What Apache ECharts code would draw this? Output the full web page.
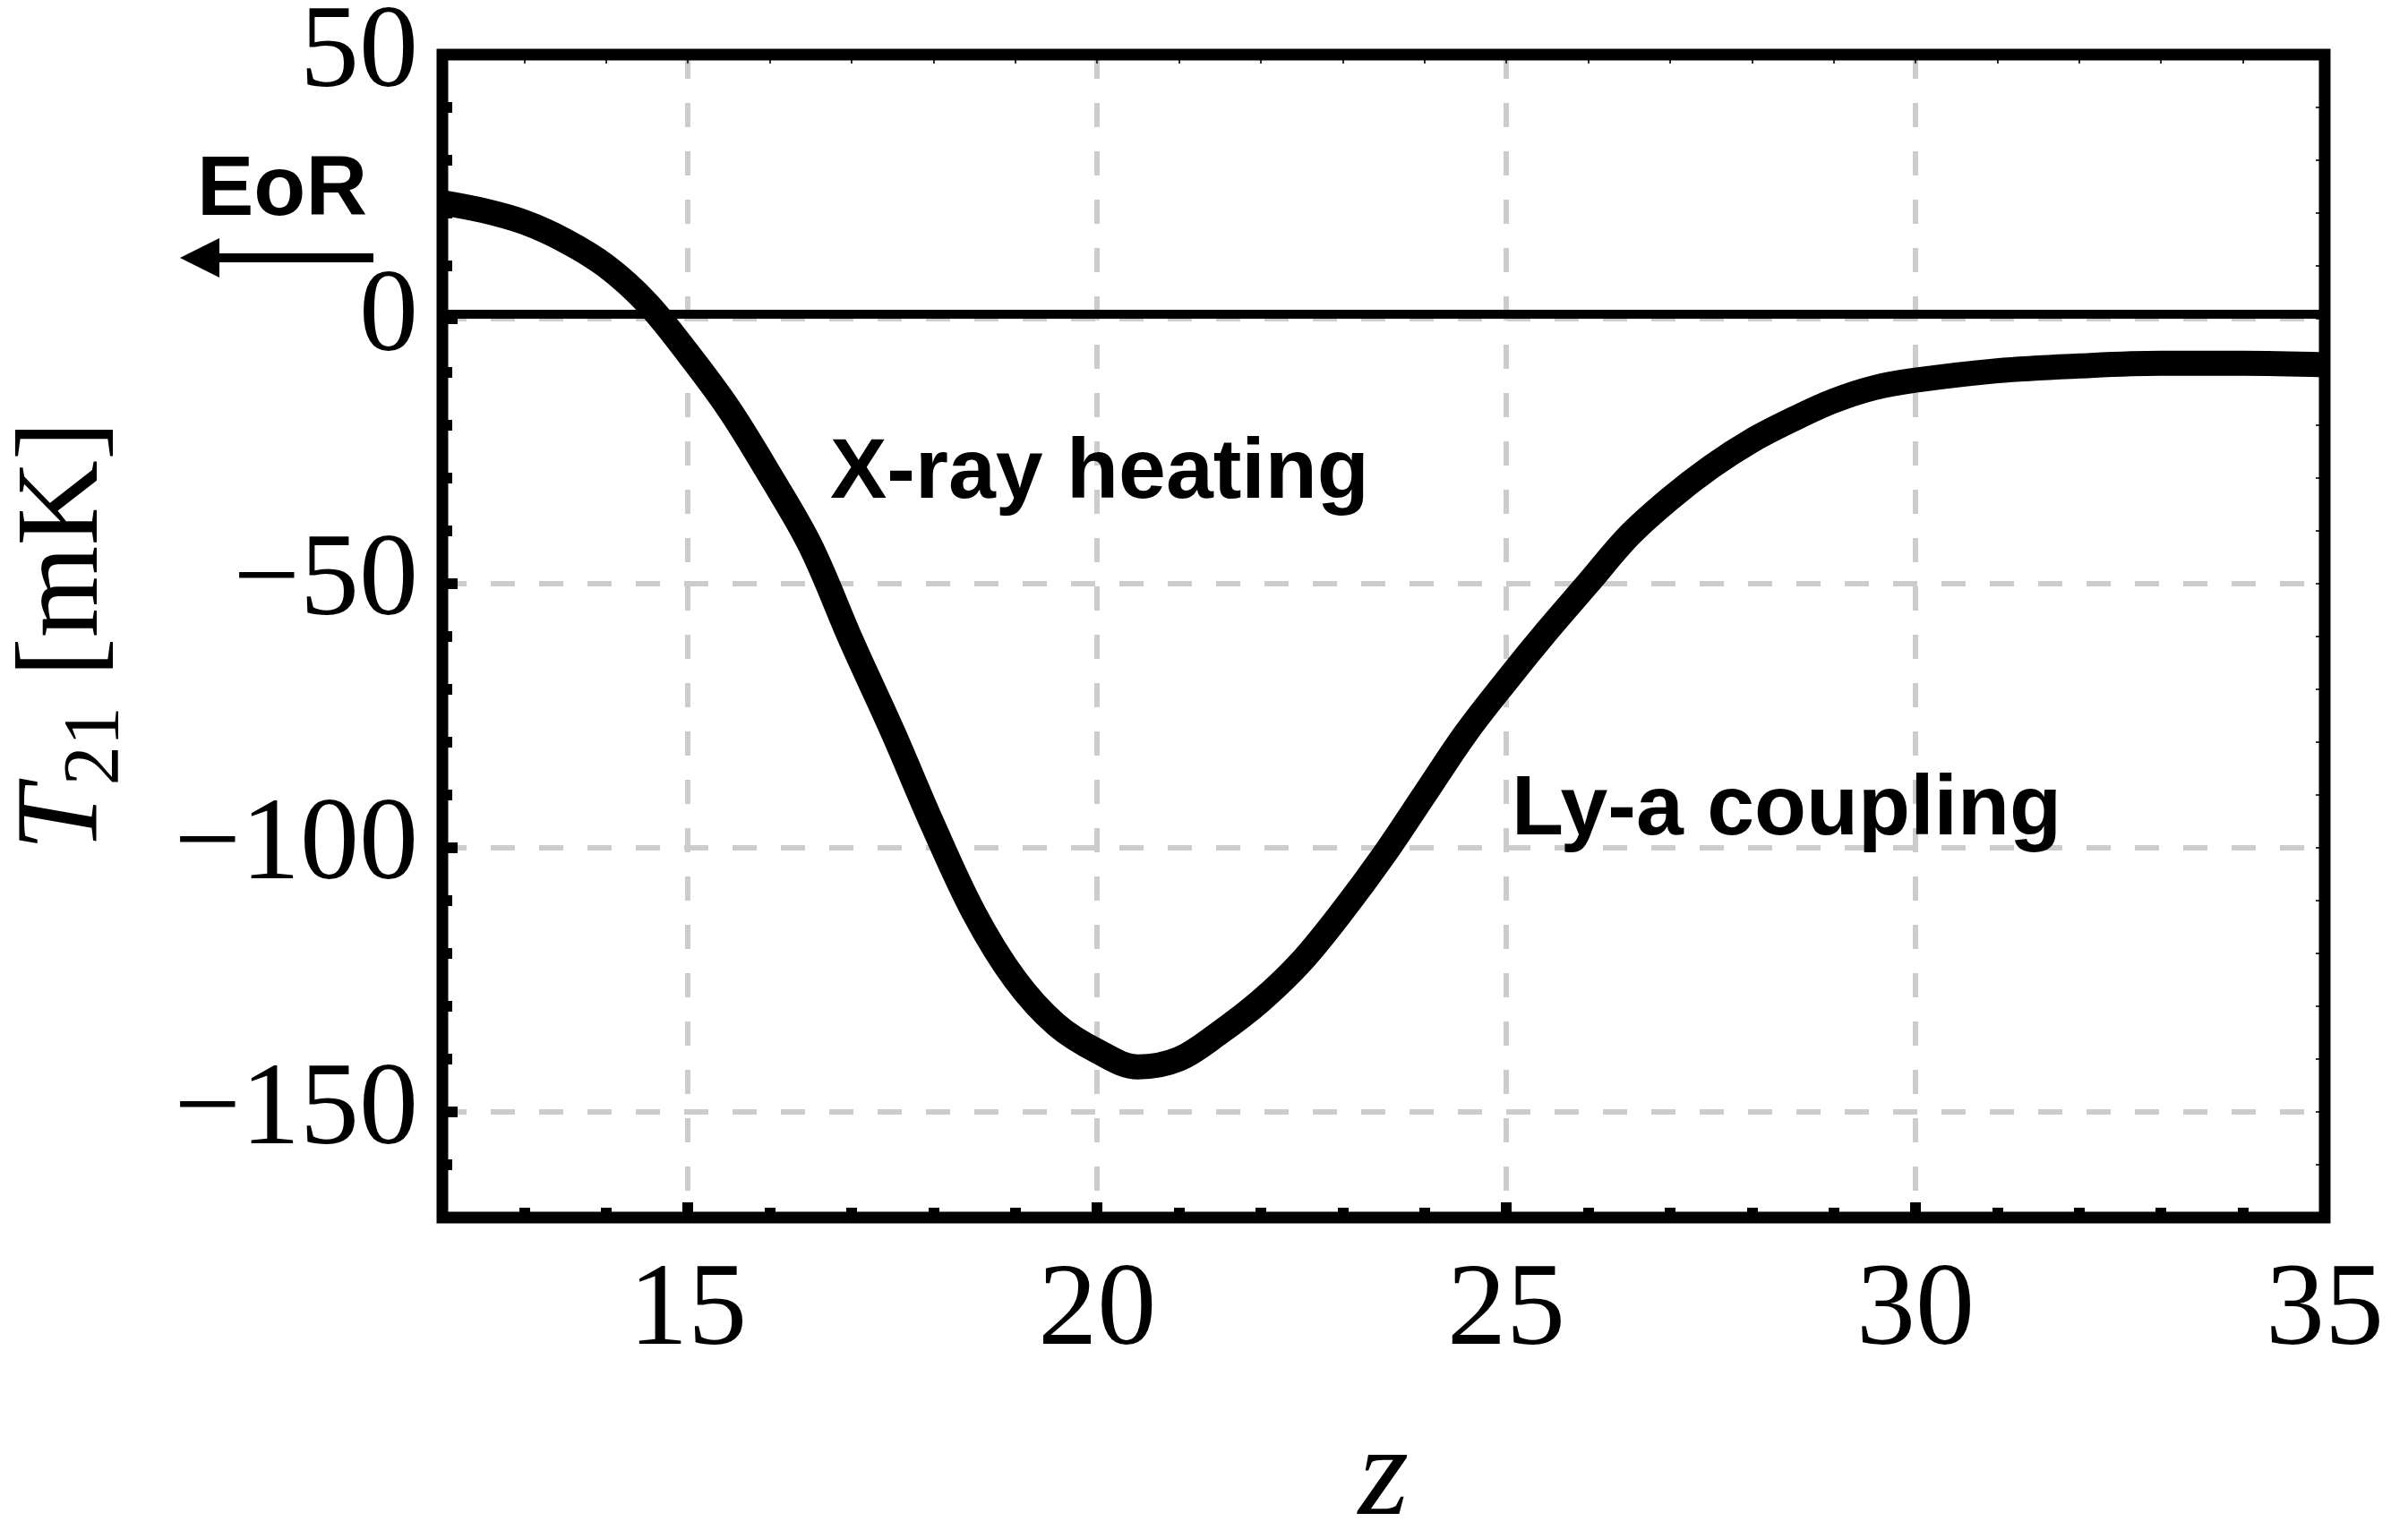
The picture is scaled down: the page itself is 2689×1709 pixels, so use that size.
<!DOCTYPE html>
<html><head><meta charset="utf-8">
<script src="https://cdn.jsdelivr.net/npm/echarts@6/dist/echarts.min.js"></script>
<style>html,body{margin:0;padding:0;background:#fff}#c{width:2689px;height:1709px}</style>
</head><body><div id="c"></div>
<script>
// Data
const redshift = [12, 12.5, 13, 13.5, 14, 14.5, 15, 15.5, 16, 16.5, 17, 17.5, 18, 18.5, 19, 19.5, 20, 20.5, 21, 21.5, 22, 22.5, 23, 23.5, 24, 24.5, 25, 25.5, 26, 26.5, 27, 27.5, 28, 28.5, 29, 29.5, 30, 31, 32, 33, 34, 35];
const t21 = [22, 20.5, 18.3, 14.8, 10, 3, -6.5, -17, -29.5, -43, -61, -78, -96, -112.5, -125, -133.5, -138.5, -141.5, -140, -135, -129, -121.5, -112, -101.5, -90, -78.5, -68.5, -59, -50, -41, -34, -28, -23, -19, -15.5, -13, -11.6, -9.8, -8.9, -8.4, -8.4, -8.7];
const xMajorTicks = [15, 20, 25, 30, 35];
const yMajorTicks = [-150, -100, -50, 0, 50];
const referenceLevel = 1;
const labelXray = 'X-ray heating';
const labelLya = 'Ly-a coupling';
const labelEoR = 'EoR';

const serif = '"Liberation Serif", "Times New Roman", serif';
const sans = '"Liberation Sans", Arial, Helvetica, sans-serif';
const grid = {left: 494, right: 93, top: 61, bottom: 349, containLabel: false, outerBoundsMode: 'none',
  show: true, z: 4, borderColor: '#000', borderWidth: 13, backgroundColor: 'transparent'};
const gridLine = {show: true, lineStyle: {color: '#cccccc', width: 6, type: [27, 27]}};
const noLine = {show: false, onZero: false};

const chart = echarts.init(document.getElementById('c'), null, {renderer: 'canvas'});
chart.setOption({
  animation: false,
  backgroundColor: '#fff',
  grid: grid,
  xAxis: [
    {type: 'value', min: 12, max: 35, position: 'bottom', axisLine: noLine,
     axisTick: {show: true, inside: true, length: 17, customValues: xMajorTicks, lineStyle: {color: '#000', width: 12}},
     axisLabel: {customValues: xMajorTicks, margin: 40, fontFamily: serif, fontSize: 132, color: '#000'},
     splitLine: gridLine,
     name: 'z', nameLocation: 'middle', nameGap: 220,
     nameTextStyle: {fontFamily: serif, fontStyle: 'italic', fontSize: 145, color: '#000'}},
    {type: 'value', min: 12, max: 35, interval: 1, position: 'bottom', axisLine: noLine,
     axisTick: {show: true, inside: true, length: 11, lineStyle: {color: '#000', width: 12}},
     axisLabel: {show: false}, splitLine: {show: false}},
    {type: 'value', min: 12, max: 35, interval: 1, position: 'top', axisLine: noLine,
     axisTick: {show: true, inside: true, length: 10, lineStyle: {color: '#333', width: 2}},
     axisLabel: {show: false}, splitLine: {show: false}}
  ],
  yAxis: [
    {type: 'value', min: -170, max: 50, position: 'left', axisLine: noLine,
     axisTick: {show: true, inside: true, length: 17, customValues: yMajorTicks, lineStyle: {color: '#000', width: 12}},
     axisLabel: {customValues: yMajorTicks, margin: 27, fontFamily: serif, fontSize: 132, color: '#000',
       formatter: v => (v < 0 ? '\u2212' + Math.abs(v) : String(v))},
     splitLine: gridLine,
     name: '{it|T}{sub|21}{n| [mK]}', nameLocation: 'middle', nameRotate: 90, nameGap: 355,
     nameTextStyle: {color: '#000', fontFamily: serif, fontSize: 132, rich: {
       it: {fontFamily: serif, fontStyle: 'italic', fontSize: 132, color: '#000'},
       sub: {fontFamily: serif, fontSize: 88, lineHeight: 60, padding: [70, 0, 0, 0], color: '#000'},
       n: {fontFamily: serif, fontSize: 132, color: '#000'}
     }}},
    {type: 'value', min: -170, max: 50, interval: 10, position: 'left', axisLine: noLine,
     axisTick: {show: true, inside: true, length: 11, lineStyle: {color: '#000', width: 12}},
     axisLabel: {show: false}, splitLine: {show: false}},
    {type: 'value', min: -170, max: 50, interval: 10, position: 'right', axisLine: noLine,
     axisTick: {show: true, inside: true, length: 10, lineStyle: {color: '#333', width: 2}},
     axisLabel: {show: false}, splitLine: {show: false}}
  ],
  series: [{
    type: 'line', xAxisIndex: 0, yAxisIndex: 0,
    data: redshift.map((z, i) => [z, t21[i]]),
    smooth: 0.35, symbol: 'none', showSymbol: false, clip: true, z: 5,
    lineStyle: {color: '#000', width: 28, cap: 'butt', join: 'round'},
    markLine: {silent: true, symbol: ['none', 'none'], label: {show: false},
      lineStyle: {color: '#000', width: 10, type: 'solid'},
      data: [{yAxis: referenceLevel}]}
  }],
  graphic: [
    {type: 'text', x: 927, y: 530, z: 10, style: {text: labelXray, fill: '#000', font: 'bold 95px ' + sans, textAlign: 'left', textVerticalAlign: 'middle', align: 'left', verticalAlign: 'middle'}},
    {type: 'text', x: 1688, y: 906, z: 10, style: {text: labelLya, fill: '#000', font: 'bold 95px ' + sans, textAlign: 'left', textVerticalAlign: 'middle', align: 'left', verticalAlign: 'middle'}},
    {type: 'text', x: 220, y: 214, z: 10, style: {text: labelEoR, fill: '#000', font: 'bold 95px ' + sans, textAlign: 'left', textVerticalAlign: 'middle', align: 'left', verticalAlign: 'middle'}},
    {type: 'line', z: 10, shape: {x1: 417, y1: 288, x2: 240, y2: 288}, style: {stroke: '#000', lineWidth: 10}},
    {type: 'polygon', z: 10, shape: {points: [[201, 288], [245, 266], [245, 310]]}, style: {fill: '#000'}}
  ]
});
</script>
</body></html>
